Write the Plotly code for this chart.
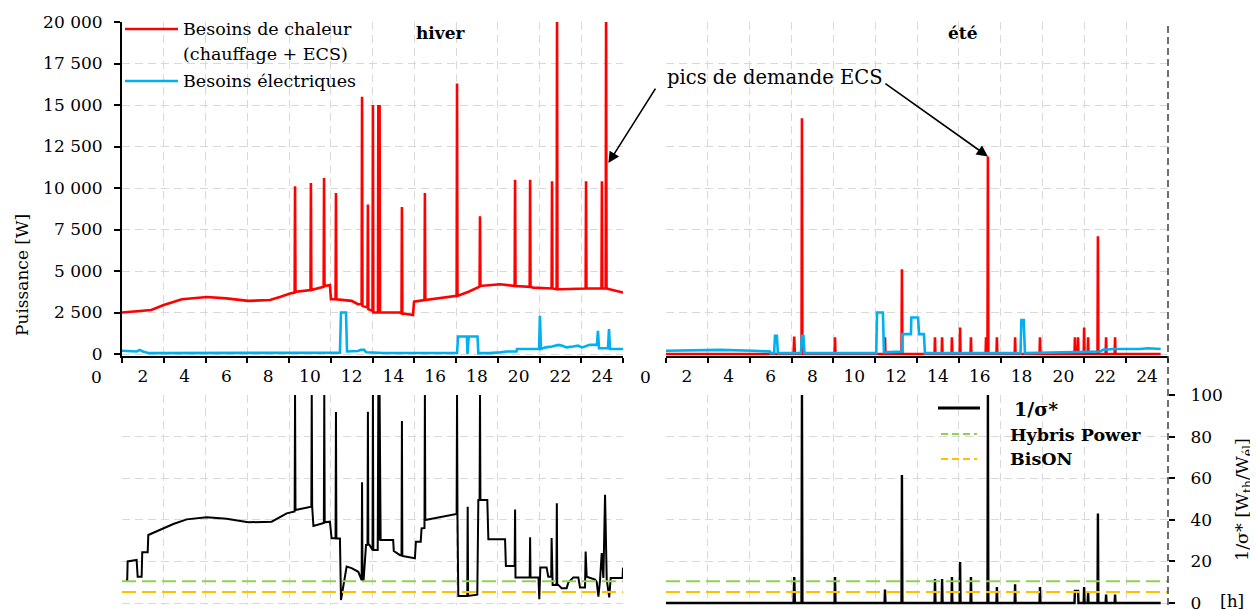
import plotly.graph_objects as go

# ---------------- data ----------------
hour_ticks = [2, 4, 6, 8, 10, 12, 14, 16, 18, 20, 22, 24]
hour_labels = ["2", "4", "6", "8", "10", "12", "14", "16", "18", "20", "22", "24"]
power_ticks = [0, 2500, 5000, 7500, 10000, 12500, 15000, 17500, 20000]
power_labels = ["0", "2 500", "5 000", "7 500", "10 000", "12 500", "15 000", "17 500", "20 000"]
ratio_ticks = [0, 20, 40, 60, 80, 100]
ratio_labels = ["0", "20", "40", "60", "80", "100"]

# hiver - besoins de chaleur [W]
winter_heat_h = [1.00, 1.86, 2.40, 3.00, 3.87, 5.07, 6.00, 7.04, 8.09, 8.60, 9.05,
                 9.27, 9.29, 9.31, 10.03, 10.05, 10.07, 10.66, 10.68, 10.70, 10.96, 11.01,
                 11.23, 11.25, 11.27, 12.00, 12.30, 12.48, 12.50, 12.52, 12.76, 12.78, 12.80,
                 13.00, 13.02, 13.04, 13.26, 13.28, 13.31, 13.34, 13.36, 14.32,
                 14.39, 14.41, 14.43, 14.94, 14.99, 15.49, 15.51, 15.53, 17.03, 17.05, 17.07,
                 17.60, 18.13, 18.15, 18.17, 19.11, 19.81, 19.83, 19.85, 20.53, 20.55, 20.57,
                 20.69, 21.58, 21.60, 21.62, 21.82, 21.84, 21.86, 22.00, 23.21, 23.23, 23.25,
                 23.97, 23.99, 24.01, 24.17, 24.19, 24.21, 25.00]
winter_heat_w = [2500, 2600, 2650, 2950, 3300, 3430, 3350, 3200, 3250, 3450, 3650,
                 3700, 10100, 3750, 3850, 10300, 3850, 4050, 10600, 4100, 4150, 3300,
                 3300, 9700, 3300, 3200, 3000, 3000, 15500, 2900, 2800, 9000, 2700,
                 2600, 15000, 2500, 2500, 15000, 2500, 15000, 2500, 2500,
                 2450, 8850, 2450, 2350, 3150, 3250, 9700, 3250, 3500, 16300, 3500,
                 3750, 4050, 8300, 4100, 4200, 4100, 10500, 4100, 4050, 10500, 4050,
                 4000, 3950, 10400, 3950, 3900, 21000, 3900, 3900, 3950, 10400, 3950,
                 3950, 10400, 3950, 3950, 21000, 3950, 3700]

# hiver - besoins électriques [W]
winter_elec_h = [1.00, 1.40, 1.70, 1.86, 2.00, 2.30, 11.44, 11.49, 11.73, 11.78, 12.30,
                 12.45, 12.60, 12.70, 13.50, 17.05, 17.10, 17.52, 17.55, 17.61, 18.03,
                 18.07, 18.60, 19.11, 19.44, 19.90, 19.92, 20.98, 21.02, 21.07, 21.30,
                 21.60, 21.90, 22.10, 22.30, 22.60, 22.85, 23.05, 23.40, 23.75, 23.80,
                 23.85, 24.28, 24.33, 24.38, 25.00]
winter_elec_w = [200, 150, 150, 250, 150, 50, 80, 2500, 2500, 150, 180,
                 250, 250, 100, 60, 60, 1050, 1050, 0, 1050, 1050,
                 50, 50, 100, 150, 150, 300, 300, 2300, 300, 400,
                 450, 550, 500, 400, 450, 500, 400, 550, 550, 1400,
                 350, 350, 1500, 300, 300]

# été - besoins de chaleur [W]
summer_heat_h = [1.00, 7.10, 7.13, 7.16, 7.48, 7.50, 7.52, 9.06, 9.08, 9.10, 11.45, 11.47, 11.49,
                 12.26, 12.28, 12.30, 13.84, 13.86, 13.88, 14.18, 14.20, 14.22, 14.65, 14.67, 14.69,
                 15.04, 15.06, 15.08, 15.56, 15.58, 15.60, 16.28, 16.30, 16.32, 16.37, 16.39, 16.41,
                 16.80, 16.82, 16.84, 17.67, 17.69, 17.71, 18.86, 18.88, 18.90, 20.53, 20.55, 20.57,
                 20.68, 20.70, 20.72, 20.97, 20.99, 21.01, 21.16, 21.18, 21.20, 21.63, 21.65, 21.67,
                 22.02, 22.04, 22.06, 22.45, 22.47, 22.49, 24.65]
summer_heat_w = [0, 0, 1050, 0, 0, 14200, 0, 0, 1000, 0, 0, 1000, 0,
                 0, 5100, 0, 0, 1000, 0, 0, 1000, 0, 0, 1000, 0,
                 0, 1600, 0, 0, 1000, 0, 0, 1000, 0, 0, 11900, 0,
                 0, 1000, 0, 0, 1000, 0, 0, 1000, 0, 0, 1000, 0,
                 0, 1000, 0, 0, 1600, 0, 0, 1000, 0, 0, 7100, 0,
                 0, 1000, 0, 0, 1000, 0, 0]

# été - besoins électriques [W]
summer_elec_h = [1.00, 3.58, 5.20, 5.97, 6.00, 6.17, 6.21, 6.30, 6.35, 7.45, 7.50, 7.57, 7.62,
                 11.05, 11.09, 11.37, 11.42, 12.04, 12.28, 12.30, 12.71, 12.73, 13.05, 13.10,
                 13.33, 13.38, 17.95, 17.99, 18.10, 18.16, 20.46, 20.94, 21.75, 21.89, 22.37,
                 23.66, 24.04, 24.65]
summer_elec_w = [200, 250, 200, 150, 50, 50, 1100, 1100, 50, 50, 1100, 1100, 50,
                 50, 2500, 2500, 100, 150, 150, 1200, 1200, 2200, 2200, 1200,
                 1200, 50, 50, 2050, 2050, 50, 100, 150, 150, 250, 300,
                 300, 350, 300]

# hiver - 1/sigma* [Wth/Wel]
winter_ratio_h = [1.19, 1.25, 1.27, 1.70, 1.75, 1.94, 1.97, 2.23, 2.26, 2.50, 2.98, 3.46, 4.10,
                  5.06, 6.01, 7.05, 8.17, 8.49, 8.89, 9.27, 9.29, 9.31, 10.07, 10.09, 10.11,
                  10.17, 10.49, 10.67, 10.69, 10.71, 10.96, 11.04, 11.23, 11.25, 11.27, 11.44,
                  11.49, 11.76, 12.00, 12.32, 12.48, 12.50, 12.52, 12.57, 12.69, 12.76, 12.78,
                  12.80, 12.85, 13.00, 13.02, 13.04, 13.25, 13.28, 13.31, 13.34, 13.39, 13.99,
                  14.02, 14.32, 14.39, 14.41, 14.43, 15.03, 15.08, 15.31, 15.35, 15.49, 15.51,
                  15.53, 17.03, 17.05, 17.07, 17.11, 17.54, 17.56, 17.58, 18.02, 18.07, 18.13,
                  18.15, 18.17, 18.50, 18.55, 19.35, 19.39, 19.81, 19.83, 19.85, 19.91, 20.53,
                  20.55, 20.57, 20.95, 20.99, 21.04, 21.34, 21.42, 21.56, 21.58, 21.60, 21.63,
                  21.81, 21.83, 21.85, 21.90, 22.06, 22.30, 22.38, 22.62, 22.86, 22.94, 23.18,
                  23.21, 23.26, 23.66, 23.74, 23.82, 23.90, 23.98, 24.06, 24.14, 24.22, 24.34,
                  24.41, 24.98, 25.00]
winter_ratio_v = [11, 11, 20, 20.7, 12.6, 12.6, 24.4, 24.4, 32.7, 33.8, 35.9, 38, 40.2,
                  41.2, 40.5, 38.8, 39.1, 41, 43.1, 44, 100, 44.7, 46.3, 100, 46.3,
                  37, 38.2, 38.5, 100, 38.8, 39.1, 31.1, 31.1, 91.8, 31, 31,
                  1.4, 17.5, 16.8, 15, 11, 58, 11, 10.5, 27.9, 28, 92,
                  28, 28, 25.5, 100, 25.5, 25.5, 100, 30, 100, 30.3, 30.3,
                  25, 23, 23, 87.5, 22.6, 21.5, 29.5, 29.5, 35.9, 36, 100,
                  39.9, 42.8, 100, 42.8, 3.4, 3.4, 46.3, 3.4, 4, 49.5, 49.5,
                  100, 49.5, 49.5, 30.6, 30.6, 17.8, 17.8, 45, 12.3, 12.3, 12.3,
                  31.6, 12.3, 12.3, 1.8, 17.1, 17.1, 12.6, 12.6, 31.3, 8.7, 8.7,
                  8.7, 47.9, 8.7, 8.7, 7.1, 7.1, 9.8, 12.3, 12.3, 7.5, 7.5,
                  24.7, 12.6, 11.3, 10.2, 3, 11, 24, 12, 52, 11.3, 2.7,
                  12, 12, 17]

# été - 1/sigma* [Wth/Wel]
summer_ratio_h = [1.00, 7.10, 7.13, 7.16, 7.48, 7.50, 7.52, 9.06, 9.08, 9.10, 11.45, 11.47, 11.49,
                  12.26, 12.28, 12.30, 13.84, 13.86, 13.88, 14.18, 14.20, 14.22, 14.65, 14.67, 14.69,
                  15.04, 15.06, 15.08, 15.56, 15.58, 15.60, 16.37, 16.39, 16.41, 16.80, 16.82, 16.84,
                  17.67, 17.69, 17.71, 18.86, 18.88, 18.90, 20.53, 20.55, 20.70, 20.72, 20.97, 20.99,
                  21.01, 21.16, 21.18, 21.20, 21.63, 21.65, 21.67, 22.02, 22.04, 22.06, 22.45, 22.47,
                  22.49, 24.65]
summer_ratio_v = [0, 0, 12.5, 0, 0, 100, 0, 0, 12.5, 0, 0, 6.5, 0,
                  0, 61.5, 0, 0, 11.5, 0, 0, 11.5, 0, 0, 12.5, 0,
                  0, 19.7, 0, 0, 12.5, 0, 0, 100, 0, 0, 7.7, 0,
                  0, 9, 0, 0, 7.7, 0, 0, 5.8, 5.8, 0, 0, 7.7,
                  0, 0, 5, 0, 0, 43, 0, 0, 4, 0, 0, 4,
                  0, 0]

hybris_power_ratio = 10.5
bison_ratio = 5.3
ref_h = [1, 25]

# ---------------- styling ----------------
FONT = "DejaVu Serif"
RED = "#FF0000"
BLUE = "#00B0F0"
GREEN = "#92D050"
ORANGE = "#FFC000"
GRID = "#D9D9D9"
# the page shows the figure with an 8 px offset: build a 1250x602 figure
OFF = 8
W, H = 1250, 602


def px(x):
    return (x - OFF) / W


def py(y):
    return 1 - (y - OFF) / H


fig = go.Figure()

fig.add_trace(go.Scatter(x=winter_heat_h, y=winter_heat_w, mode="lines",
                         line=dict(color=RED, width=2.6), xaxis="x", yaxis="y",
                         name="Besoins de chaleur (chauffage + ECS)", showlegend=False))
fig.add_trace(go.Scatter(x=winter_elec_h, y=winter_elec_w, mode="lines",
                         line=dict(color=BLUE, width=2.6), xaxis="x", yaxis="y",
                         name="Besoins électriques", showlegend=False))
fig.add_trace(go.Scatter(x=summer_heat_h, y=summer_heat_w, mode="lines",
                         line=dict(color=RED, width=2.6), xaxis="x2", yaxis="y2",
                         showlegend=False))
fig.add_trace(go.Scatter(x=summer_elec_h, y=summer_elec_w, mode="lines",
                         line=dict(color=BLUE, width=2.6), xaxis="x2", yaxis="y2",
                         showlegend=False))

fig.add_trace(go.Scatter(x=winter_ratio_h, y=winter_ratio_v, mode="lines",
                         line=dict(color="black", width=2), xaxis="x3", yaxis="y3",
                         name="1/σ*", showlegend=False))
fig.add_trace(go.Scatter(x=summer_ratio_h, y=summer_ratio_v, mode="lines",
                         line=dict(color="black", width=2.4), xaxis="x4", yaxis="y4",
                         showlegend=False))
for xa, ya in (("x3", "y3"), ("x4", "y4")):
    fig.add_trace(go.Scatter(x=ref_h, y=[hybris_power_ratio] * 2, mode="lines",
                             line=dict(color=GREEN, width=2, dash="14px,6px"),
                             xaxis=xa, yaxis=ya, name="Hybris Power", showlegend=False))
    fig.add_trace(go.Scatter(x=ref_h, y=[bison_ratio] * 2, mode="lines",
                             line=dict(color=ORANGE, width=2.2, dash="14px,6px"),
                             xaxis=xa, yaxis=ya, name="BisON", showlegend=False))

left_dom = [px(122), px(623)]
right_dom = [px(666), px(1168)]
top_dom = [py(355.66), py(22)]
bot_dom = [py(605.08), py(395)]

tickfont = dict(family=FONT, size=17, color="black")


def xaxis(domain, anchor, top):
    d = dict(domain=domain, anchor=anchor, range=[1, 25], tickmode="array",
             tickvals=hour_ticks, ticktext=hour_labels, showgrid=False, zeroline=False,
             ticks="", tickfont=tickfont, fixedrange=True, automargin=False,
             ticklabeloverflow="allow",
             minor=dict(tickmode="linear", tick0=1, dtick=2, showgrid=True,
                        gridcolor=GRID, griddash="8px,5px", gridwidth=1.3,
                        ticks="outside" if top else "", ticklen=5, tickcolor="black",
                        tickwidth=1.5))
    if top:
        d.update(showline=True, linecolor="black", linewidth=2, showticklabels=True,
                 ticklabelstandoff=4)
    else:
        d.update(showline=False, showticklabels=False)
    return d


def yaxis(domain, anchor, rng, vals, labels, show, side="left"):
    d = dict(domain=domain, anchor=anchor, range=rng, tickmode="array", tickvals=vals,
             ticktext=labels, showgrid=True, gridcolor=GRID, griddash="8px,5px",
             gridwidth=1.3, zeroline=False, tickfont=tickfont, side=side, fixedrange=True,
             automargin=False, ticklabeloverflow="allow")
    if show:
        d.update(showticklabels=True, ticks="outside", ticklen=6, tickcolor="black",
                 tickwidth=1.5)
    else:
        d.update(showticklabels=False, ticks="")
    return d


fig.update_layout(
    template="none",
    width=W, height=H, margin=dict(l=0, r=0, t=0, b=0, pad=0), autosize=False,
    paper_bgcolor="white", plot_bgcolor="rgba(0,0,0,0)",
    font=dict(family=FONT, size=17, color="black"),
    xaxis=xaxis(left_dom, "y", True),
    xaxis2=xaxis(right_dom, "y2", True),
    xaxis3=xaxis(left_dom, "y3", False),
    xaxis4=xaxis(right_dom, "y4", False),
    yaxis=yaxis(top_dom, "x", [-100, 20000], power_ticks, power_labels, True),
    yaxis2=yaxis(top_dom, "x2", [-100, 20000], power_ticks, power_labels, False),
    yaxis3=yaxis(bot_dom, "x3", [-1, 100], ratio_ticks, ratio_labels, False),
    yaxis4=yaxis(bot_dom, "x4", [-1, 100], ratio_ticks, ratio_labels, True, side="right"),
    showlegend=False,
)
fig.layout.yaxis.showline = True
fig.layout.yaxis.linecolor = "black"
fig.layout.yaxis.linewidth = 2
fig.layout.yaxis.ticklabelstandoff = 8
fig.layout.yaxis4.ticklabelstandoff = 12

shapes = [
    # right dashed frame line
    dict(type="line", xref="paper", yref="paper", x0=px(1168), x1=px(1168), y0=py(605),
         y1=py(22), line=dict(color="#404040", width=1.5, dash="7px,4px")),
    # legend samples (top-left)
    dict(type="line", xref="paper", yref="paper", x0=px(125), x1=px(178), y0=py(29),
         y1=py(29), line=dict(color=RED, width=2.6)),
    dict(type="line", xref="paper", yref="paper", x0=px(125), x1=px(178), y0=py(81),
         y1=py(81), line=dict(color=BLUE, width=2.6)),
    # legend samples (bottom-right)
    dict(type="line", xref="paper", yref="paper", x0=px(938), x1=px(980), y0=py(408),
         y1=py(408), line=dict(color="black", width=3)),
    dict(type="line", xref="paper", yref="paper", x0=px(941), x1=px(977), y0=py(434),
         y1=py(434), line=dict(color=GREEN, width=2, dash="7px,4px")),
    dict(type="line", xref="paper", yref="paper", x0=px(941), x1=px(977), y0=py(459),
         y1=py(459), line=dict(color=ORANGE, width=2, dash="7px,4px")),
]
fig.update_layout(shapes=shapes)


def ann(text, x, y, xanchor="center", size=17, bold=False, angle=0):
    return dict(text=f"<b>{text}</b>" if bold else text, xref="paper", yref="paper",
                x=px(x), y=py(y), xanchor=xanchor, yanchor="middle", showarrow=False,
                textangle=angle, font=dict(family=FONT, size=size, color="black"))


annotations = [
    ann("hiver", 441, 33, bold=True),
    ann("été", 963, 33, bold=True),
    ann("Puissance [W]", 22, 275, angle=-90),
    ann("1/σ* [W<sub>th</sub>/W<sub>él</sub>]", 1243, 500, angle=-90, size=17.5),
    ann("[h]", 1232, 601),
    ann("0", 96, 377),
    ann("0", 645, 377),
    ann("pics de demande ECS", 775, 77, size=19.5),
    ann("Besoins de chaleur", 181, 29, xanchor="left", size=17.5),
    ann("(chauffage + ECS)", 181, 54, xanchor="left", size=17.5),
    ann("Besoins électriques", 181, 81, xanchor="left", size=17.5),
    ann("1/σ*", 1012, 409, xanchor="left", size=19, bold=True),
    ann("Hybris Power", 1008, 435, xanchor="left", size=17.5, bold=True),
    ann("BisON", 1008, 459, xanchor="left", size=17.5, bold=True),
    dict(text="", xref="x", yref="y", x=24.3, y=11500, ax=48, ay=-76, showarrow=True,
         arrowhead=2, arrowsize=1.4, arrowwidth=1.6, arrowcolor="black", standoff=0),
    dict(text="", xref="x2", yref="y2", x=16.39, y=11900, ax=-104, ay=-74, showarrow=True,
         arrowhead=2, arrowsize=1.4, arrowwidth=1.6, arrowcolor="black", standoff=0),
]
fig.update_layout(annotations=annotations)

fig.write_html("out.html")
